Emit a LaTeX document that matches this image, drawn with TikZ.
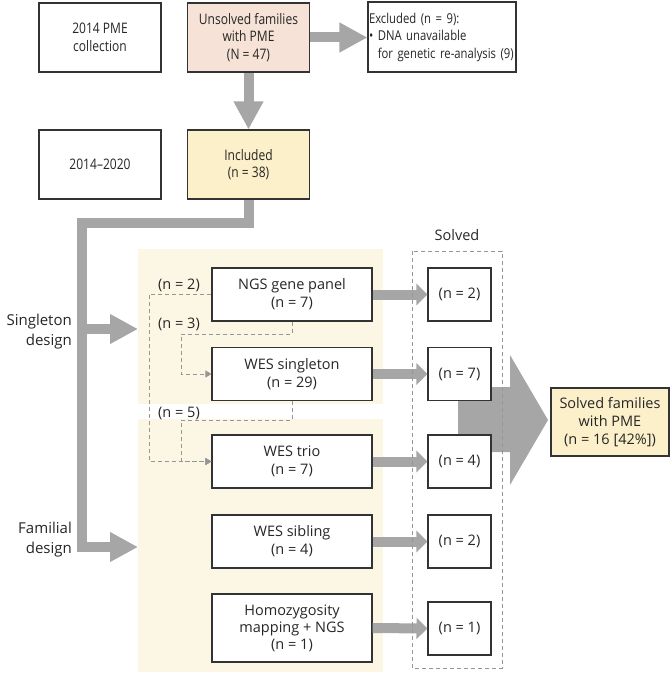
\documentclass[tikz,border=0pt]{standalone}
\usepackage{fontspec}
\setmainfont{Open Sans}
\newfontfamily\narrowsans{Open Sans}[FakeStretch=0.83]
\usetikzlibrary{arrows.meta}
\definecolor{arrowgray}{RGB}{166,166,166}
\definecolor{dashgray}{RGB}{150,150,150}
\definecolor{peach}{RGB}{246,226,214}
\definecolor{paleyellow}{RGB}{251,240,201}
\definecolor{panelbeige}{RGB}{252,246,229}
\tikzset{
  box/.style        = {shape=rectangle, draw=black!80, line width=1.1pt,
                       fill=white, align=center, inner sep=0pt},
  topbox/.style     = {box, minimum width=122pt, minimum height=69pt,
                       font=\narrowsans\fontsize{14.5}{17.5}\selectfont},
  methodbox/.style  = {box, minimum width=160pt, minimum height=53pt},
  resultbox/.style  = {box, minimum width=63pt, minimum height=53pt},
  sidelabel/.style  = {anchor=east, align=right, inner sep=0pt,
                       font=\fontsize{15}{20}\selectfont},
  fatarrow/.style   = {draw=arrowgray, line width=10pt, line join=miter,
                       -{Triangle[length=28pt,width=28pt]}},
  thinarrow/.style  = {draw=arrowgray, line width=10pt,
                       -{Triangle[length=11pt,width=21pt]}},
  linkline/.style   = {draw=dashgray, line width=0.8pt, dash pattern=on 4pt off 3pt,
                       -{Triangle[length=6pt,width=7pt]}},
  countlabel/.style = {inner sep=0pt}
}

\begin{document}
\begin{tikzpicture}
 [x=1pt, y=-1pt, font=\fontsize{14.5}{18}\selectfont, text=black!85]

  \useasboundingbox (0,0) rectangle (671,674);

  % yellow panels behind the designs
  \fill[panelbeige] (138,249) rectangle (383,404);
  \fill[panelbeige] (138,419) rectangle (383,672);

  % merging arrow
  \fill[arrowgray] (458,387) -- (510,387) -- (510,355) -- (548,420)
    -- (510,485) -- (510,452) -- (458,452) -- cycle;

  \node [topbox] (collection) at (100,37.5) {2014 PME\\collection};
  \node [topbox, fill=peach] (unsolved) at (248.5,37.5) {Unsolved families\\with PME\\(N = 47)};
  \node [box, minimum width=148pt, minimum height=70pt, text width=146pt, inner xsep=1pt,
         align=left, font=\narrowsans\fontsize{13.6}{17.5}\selectfont]
    (excluded) at (442,37) {Excluded (n = 9):\\• DNA unavailable\\\phantom{• }for genetic re-analysis (9)};
  \node [topbox] (years) at (100,164.5) {2014–2020};
  \node [topbox, fill=paleyellow] (included) at (248.5,164.5) {Included\\(n = 38)};

  \node [sidelabel] (singleton) at (72,332) {Singleton\\design};
  \node [sidelabel] (familial) at (72,540) {Familial\\design};

  \node [methodbox] (panel) at (292,294.5) {NGS gene panel\\(n = 7)};
  \node [methodbox] (wessingle) at (292,374) {WES singleton\\(n = 29)};
  \node [methodbox] (westrio) at (292,461.5) {WES trio\\(n = 7)};
  \node [methodbox] (wessib) at (292,541.5) {WES sibling\\(n = 4)};
  \node [methodbox, minimum height=68pt, font=\fontsize{14.5}{17}\selectfont]
    (homozyg) at (292,628) {Homozygosity\\mapping + NGS\\(n = 1)};

  \node [resultbox] (solvedpanel) at (459.5,294.5) {(n = 2)};
  \node [resultbox] (solvedsingle) at (459.5,374) {(n = 7)};
  \node [resultbox] (solvedtrio) at (459.5,461.5) {(n = 4)};
  \node [resultbox] (solvedsib) at (459.5,541.5) {(n = 2)};
  \node [resultbox] (solvedhomo) at (459.5,628.5) {(n = 1)};

  \node [box, fill=paleyellow, minimum width=118pt, minimum height=68pt]
    (total) at (610,422) {Solved families\\with PME\\(n = 16 [42\%])};

  \node (solvedtitle) at (457,235) {Solved};

  \node [countlabel] (ntwo) at (179,285) {(n = 2)};
  \node [countlabel] (nthree) at (179,324) {(n = 3)};
  \node [countlabel] (nfive) at (179,413) {(n = 5)};

  % thick grey flow
  \coordinate (corner) at (82,223);
  \coordinate (singletip) at (138,329);
  \coordinate (familtip) at (138,547);
  \draw[fatarrow] (unsolved.east) -- (unsolved.east -| excluded.west);
  \draw[fatarrow] (unsolved.south) -- (included.north);
  \draw[fatarrow] (included.south) |- (corner) -- (corner |- familtip) -- (familtip);
  \draw[fatarrow] (corner |- singletip) -- (singletip);

  \foreach \from/\to in {panel/solvedpanel, wessingle/solvedsingle, westrio/solvedtrio,
                         wessib/solvedsib, homozyg/solvedhomo}
    \draw[thinarrow] (\from.east) -- (\to.west);

  % dashed re-analysis links
  \draw[linkline] (panel.west) -- (149,294.5) -- (149,461.5) -- (westrio.west);
  \draw[linkline] (panel.south) -- (292,334) -- (181,334) -- (181,374) -- (wessingle.west);
  \draw[linkline] (wessingle.south) -- (292,420) -- (181,420) -- (181,461.5) -- (westrio.west);

  \draw[dashgray, line width=0.8pt, dash pattern=on 4pt off 3pt] (412,251) rectangle (502,668);
\end{tikzpicture}
\end{document}
